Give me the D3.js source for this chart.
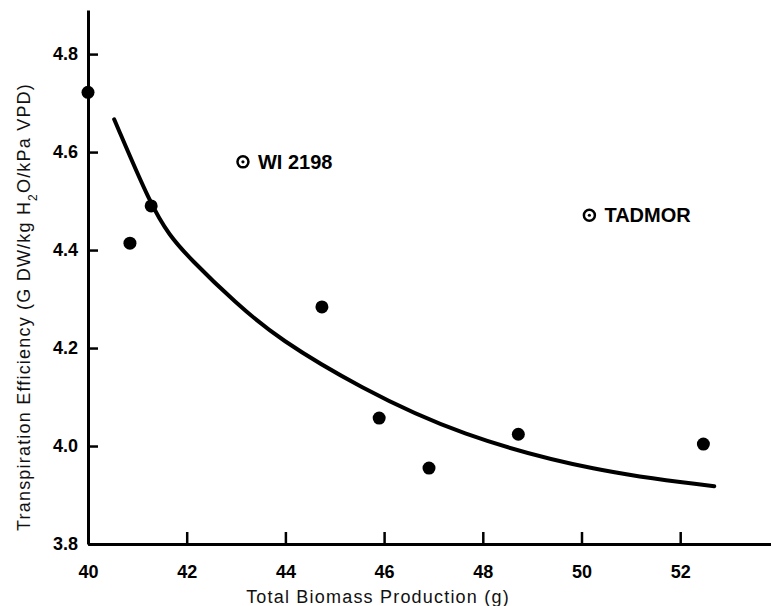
<!DOCTYPE html>
<html>
<head>
<meta charset="utf-8">
<script src="https://cdn.jsdelivr.net/npm/d3@7"></script>
<style>
  body { margin: 0; background: #fff; }
  svg { display: block; font-family: "Liberation Sans", Arial, sans-serif; }
</style>
</head>
<body>
<svg id="chart" width="771" height="606"></svg>
<script>
// filled points
var biomass = [40.0, 40.85, 41.28, 44.74, 45.9, 46.91, 48.72, 52.47];
var efficiency = [4.722, 4.414, 4.49, 4.284, 4.057, 3.955, 4.024, 4.004];

// open (labelled) points
var namedLabels = ["WI 2198", "TADMOR"];
var namedBiomass = [43.14, 50.16];
var namedEff = [4.58, 4.471];

// fitted curve
var curveX = [40.53, 41.28, 41.65, 42.05, 43.0, 43.87, 45.49, 47.52, 50.3, 52.69];
var curveY = [4.667, 4.49, 4.43, 4.384, 4.291, 4.218, 4.12, 4.022, 3.947, 3.918];

var xTicks = [40, 42, 44, 46, 48, 50, 52];
var yTicks = [3.8, 4.0, 4.2, 4.4, 4.6, 4.8];

var svg = d3.select("#chart");

var x = d3.scaleLinear().domain([40, 53.84]).range([88, 771]);
var y = d3.scaleLinear().domain([3.8, 4.89]).range([544, 10]);

var xAxis = d3.axisBottom(x).tickValues(xTicks)
    .tickFormat(d3.format("d"))
    .tickSizeInner(-12).tickSizeOuter(0).tickPadding(21);
var yAxis = d3.axisLeft(y).tickValues(yTicks)
    .tickFormat(d3.format(".1f"))
    .tickSizeInner(-10).tickSizeOuter(0).tickPadding(10);

var gx = svg.append("g").attr("transform", "translate(0,544)").call(xAxis);
var gy = svg.append("g").attr("transform", "translate(88,0)").call(yAxis);

[gx, gy].forEach(function(g){
    g.select(".domain").attr("stroke", "#000").attr("stroke-width", 3)
    g.selectAll(".tick line").attr("stroke", "#000").attr("stroke-width", 2.5)
    g.selectAll(".tick text")
        .attr("fill", "#000")
        .style("font-size", "18px")
        .style("font-weight", "bold")
        .style("font-family", "'Liberation Sans', Arial, sans-serif")
})

// axis titles
svg.append("text")
    .attr("x", 378).attr("y", 603)
    .attr("text-anchor", "middle")
    .style("font-size", "18px")
    .style("letter-spacing", "1.2px")
    .attr("fill", "#111")
    .text("Total Biomass Production (g)")

var yt = svg.append("text")
    .attr("transform", "translate(30,307) rotate(-90)")
    .attr("text-anchor", "middle")
    .style("font-size", "18px")
    .style("letter-spacing", "1.2px")
    .attr("fill", "#111")
yt.append("tspan").text("Transpiration Efficiency (G DW/kg H")
yt.append("tspan").attr("baseline-shift", "sub").style("font-size", "12px").text("2")
yt.append("tspan").text("O/kPa VPD)")

// curve
var pts = curveX.map(function(v, i){ return [v, curveY[i]] })
var line = d3.line()
    .x(function(d){ return x(d[0]) })
    .y(function(d){ return y(d[1]) })
    .curve(d3.curveBasis)

svg.append("path")
    .datum(pts)
    .attr("d", line)
    .attr("fill", "none")
    .attr("stroke", "#000")
    .attr("stroke-width", 4)
    .attr("stroke-linecap", "round")

// filled dots
svg.selectAll(".dot")
    .data(biomass)
    .enter().append("circle")
    .attr("class", "dot")
    .attr("cx", function(d){ return x(d) })
    .attr("cy", function(d, i){ return y(efficiency[i]) })
    .attr("r", 6.5)
    .attr("fill", "#000")

// open dots with labels
var named = svg.selectAll(".named")
    .data(namedLabels)
    .enter().append("g")
    .attr("class", "named")
    .attr("transform", function(d, i){
        return "translate(" + x(namedBiomass[i]) + "," + y(namedEff[i]) + ")"
    })
named.append("circle").attr("r", 5.5).attr("fill", "#fff")
    .attr("stroke", "#000").attr("stroke-width", 2.5)
named.append("circle").attr("r", 1.6).attr("fill", "#000")
named.append("text")
    .attr("x", 15).attr("y", 7)
    .style("font-size", "20px")
    .style("font-weight", "bold")
    .attr("fill", "#000")
    .text(function(d){ return d })
</script>
</body>
</html>
